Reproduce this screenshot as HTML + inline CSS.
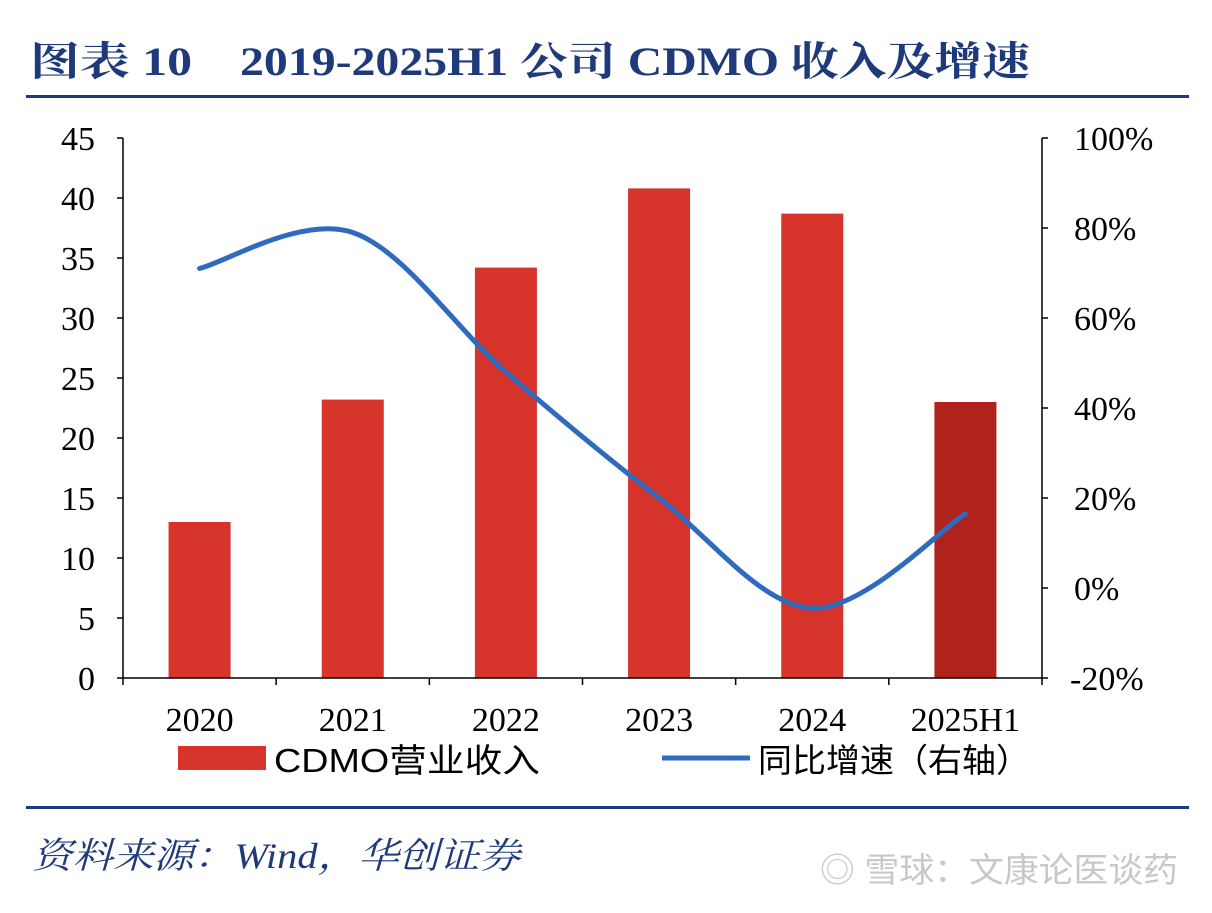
<!DOCTYPE html>
<html><head><meta charset="utf-8">
<style>
body{margin:0;background:#fff;width:1212px;height:908px;overflow:hidden;font-family:"Liberation Serif","Noto Serif CJK SC",serif;}
</style></head>
<body>
<svg width="1212" height="908" xmlns="http://www.w3.org/2000/svg">
<text x="30" y="75" font-size="40" font-weight="bold" fill="#1f3a7a" textLength="162" lengthAdjust="spacingAndGlyphs" font-family="'Liberation Serif','Noto Serif CJK SC',serif">图表 10</text>
<text x="240" y="75" font-size="40" font-weight="bold" fill="#1f3a7a" textLength="790" lengthAdjust="spacingAndGlyphs" font-family="'Liberation Serif','Noto Serif CJK SC',serif">2019-2025H1 公司 CDMO 收入及增速</text>
<rect x="26" y="95" width="1163" height="3" fill="#1f3a7a"/>
<g id="plot"></g>
<rect x="178" y="746" width="88" height="24" fill="#d7342c"/>
<text x="274" y="772" font-size="33" fill="#000" textLength="266" lengthAdjust="spacingAndGlyphs" font-family="'Liberation Sans','Noto Sans CJK SC',sans-serif">CDMO营业收入</text>
<line x1="662" y1="758" x2="750" y2="758" stroke="#2e6bbf" stroke-width="5"/>
<text x="758" y="772" font-size="33" fill="#000" textLength="272" lengthAdjust="spacingAndGlyphs" font-family="'Liberation Sans','Noto Sans CJK SC',sans-serif">同比增速（右轴）</text>
<rect x="26" y="806" width="1163" height="3" fill="#1f3a7a"/>
<text x="32" y="868" font-size="36" font-style="italic" fill="#1f3a7a" textLength="488" lengthAdjust="spacingAndGlyphs">资料来源：Wind，华创证券</text>
<text x="820" y="882" font-size="34" fill="#c8c8c8" textLength="358" lengthAdjust="spacingAndGlyphs" font-family="'Liberation Sans','Noto Sans CJK SC',sans-serif">◎ 雪球：文康论医谈药</text>
</svg>
<script>
const categories=["2020","2021","2022","2023","2024","2025H1"];
const revenue=[13.0,23.2,34.2,40.8,38.7,23.0];
const growth=[71,79,48,20,-4.5,16.5];
const leftTicks=[0,5,10,15,20,25,30,35,40,45];
const rightTicks=[-20,0,20,40,60,80,100];
const NS="http://www.w3.org/2000/svg";
const g=document.getElementById("plot");
const X0=123,X1=1042,Y0=678,Y1=138;
const bw=(X1-X0)/categories.length;
const yL=v=>Y0-(v-0)/(45-0)*(Y0-Y1);
const yR=v=>Y0-(v+20)/120*(Y0-Y1);
const xc=i=>X0+bw*(i+0.5);
function mk(t,a){const e=document.createElementNS(NS,t);for(const k in a)e.setAttribute(k,a[k]);g.appendChild(e);return e;}
revenue.forEach((v,i)=>{
 const r=mk("rect",{x:xc(i)-31,y:yL(v),width:62,height:Y0-yL(v),fill:i===5?"#b0221c":"#d7342c"});
 
 
});
let a=mk("line",{x1:X0,y1:Y1,x2:X0,y2:Y0,stroke:"#000","stroke-width":1.5});


a=mk("line",{x1:X1,y1:Y1,x2:X1,y2:Y0,stroke:"#000","stroke-width":1.5});


a=mk("line",{x1:X0,y1:Y0,x2:X1,y2:Y0,stroke:"#000","stroke-width":1.5});


leftTicks.forEach(v=>{
 mk("line",{x1:X0-6,y1:yL(v),x2:X0,y2:yL(v),stroke:"#000","stroke-width":1.5});
 const t=mk("text",{x:X0-28,y:yL(v)+12,"font-size":34,"text-anchor":"end",fill:"#000"});t.textContent=v;
 
 
});
rightTicks.forEach(v=>{
 mk("line",{x1:X1,y1:yR(v),x2:X1+6,y2:yR(v),stroke:"#000","stroke-width":1.5});
 const t=mk("text",{x:X1+32,y:yR(v)+12,"font-size":34,fill:"#000"});t.textContent=v+"%";
 if(v<0)t.setAttribute('x',X1+28);
 
 
});
for(let i=0;i<=categories.length;i++)mk("line",{x1:X0+bw*i,y1:Y0,x2:X0+bw*i,y2:Y0+7,stroke:"#000","stroke-width":1.5});
categories.forEach((c,i)=>{
 const t=mk("text",{x:xc(i),y:Y0+53,"font-size":34,"text-anchor":"middle",fill:"#000"});t.textContent=c;
 
 
});
const pts=growth.map((v,i)=>[xc(i),yR(v)]);
let d="M"+pts[0][0]+","+pts[0][1];
for(let i=0;i<pts.length-1;i++){
 const p0=pts[Math.max(i-1,0)],p1=pts[i],p2=pts[i+1],p3=pts[Math.min(i+2,pts.length-1)];
 const c1=[p1[0]+(p2[0]-p0[0])/6,p1[1]+(p2[1]-p0[1])/6];
 const c2=[p2[0]-(p3[0]-p1[0])/6,p2[1]-(p3[1]-p1[1])/6];
 d+=` C${c1[0]},${c1[1]} ${c2[0]},${c2[1]} ${p2[0]},${p2[1]}`;
}
const line=mk("path",{d:d,fill:"none",stroke:"#2e6bbf","stroke-width":5,"stroke-linecap":"round"});


</script>
</body></html>
